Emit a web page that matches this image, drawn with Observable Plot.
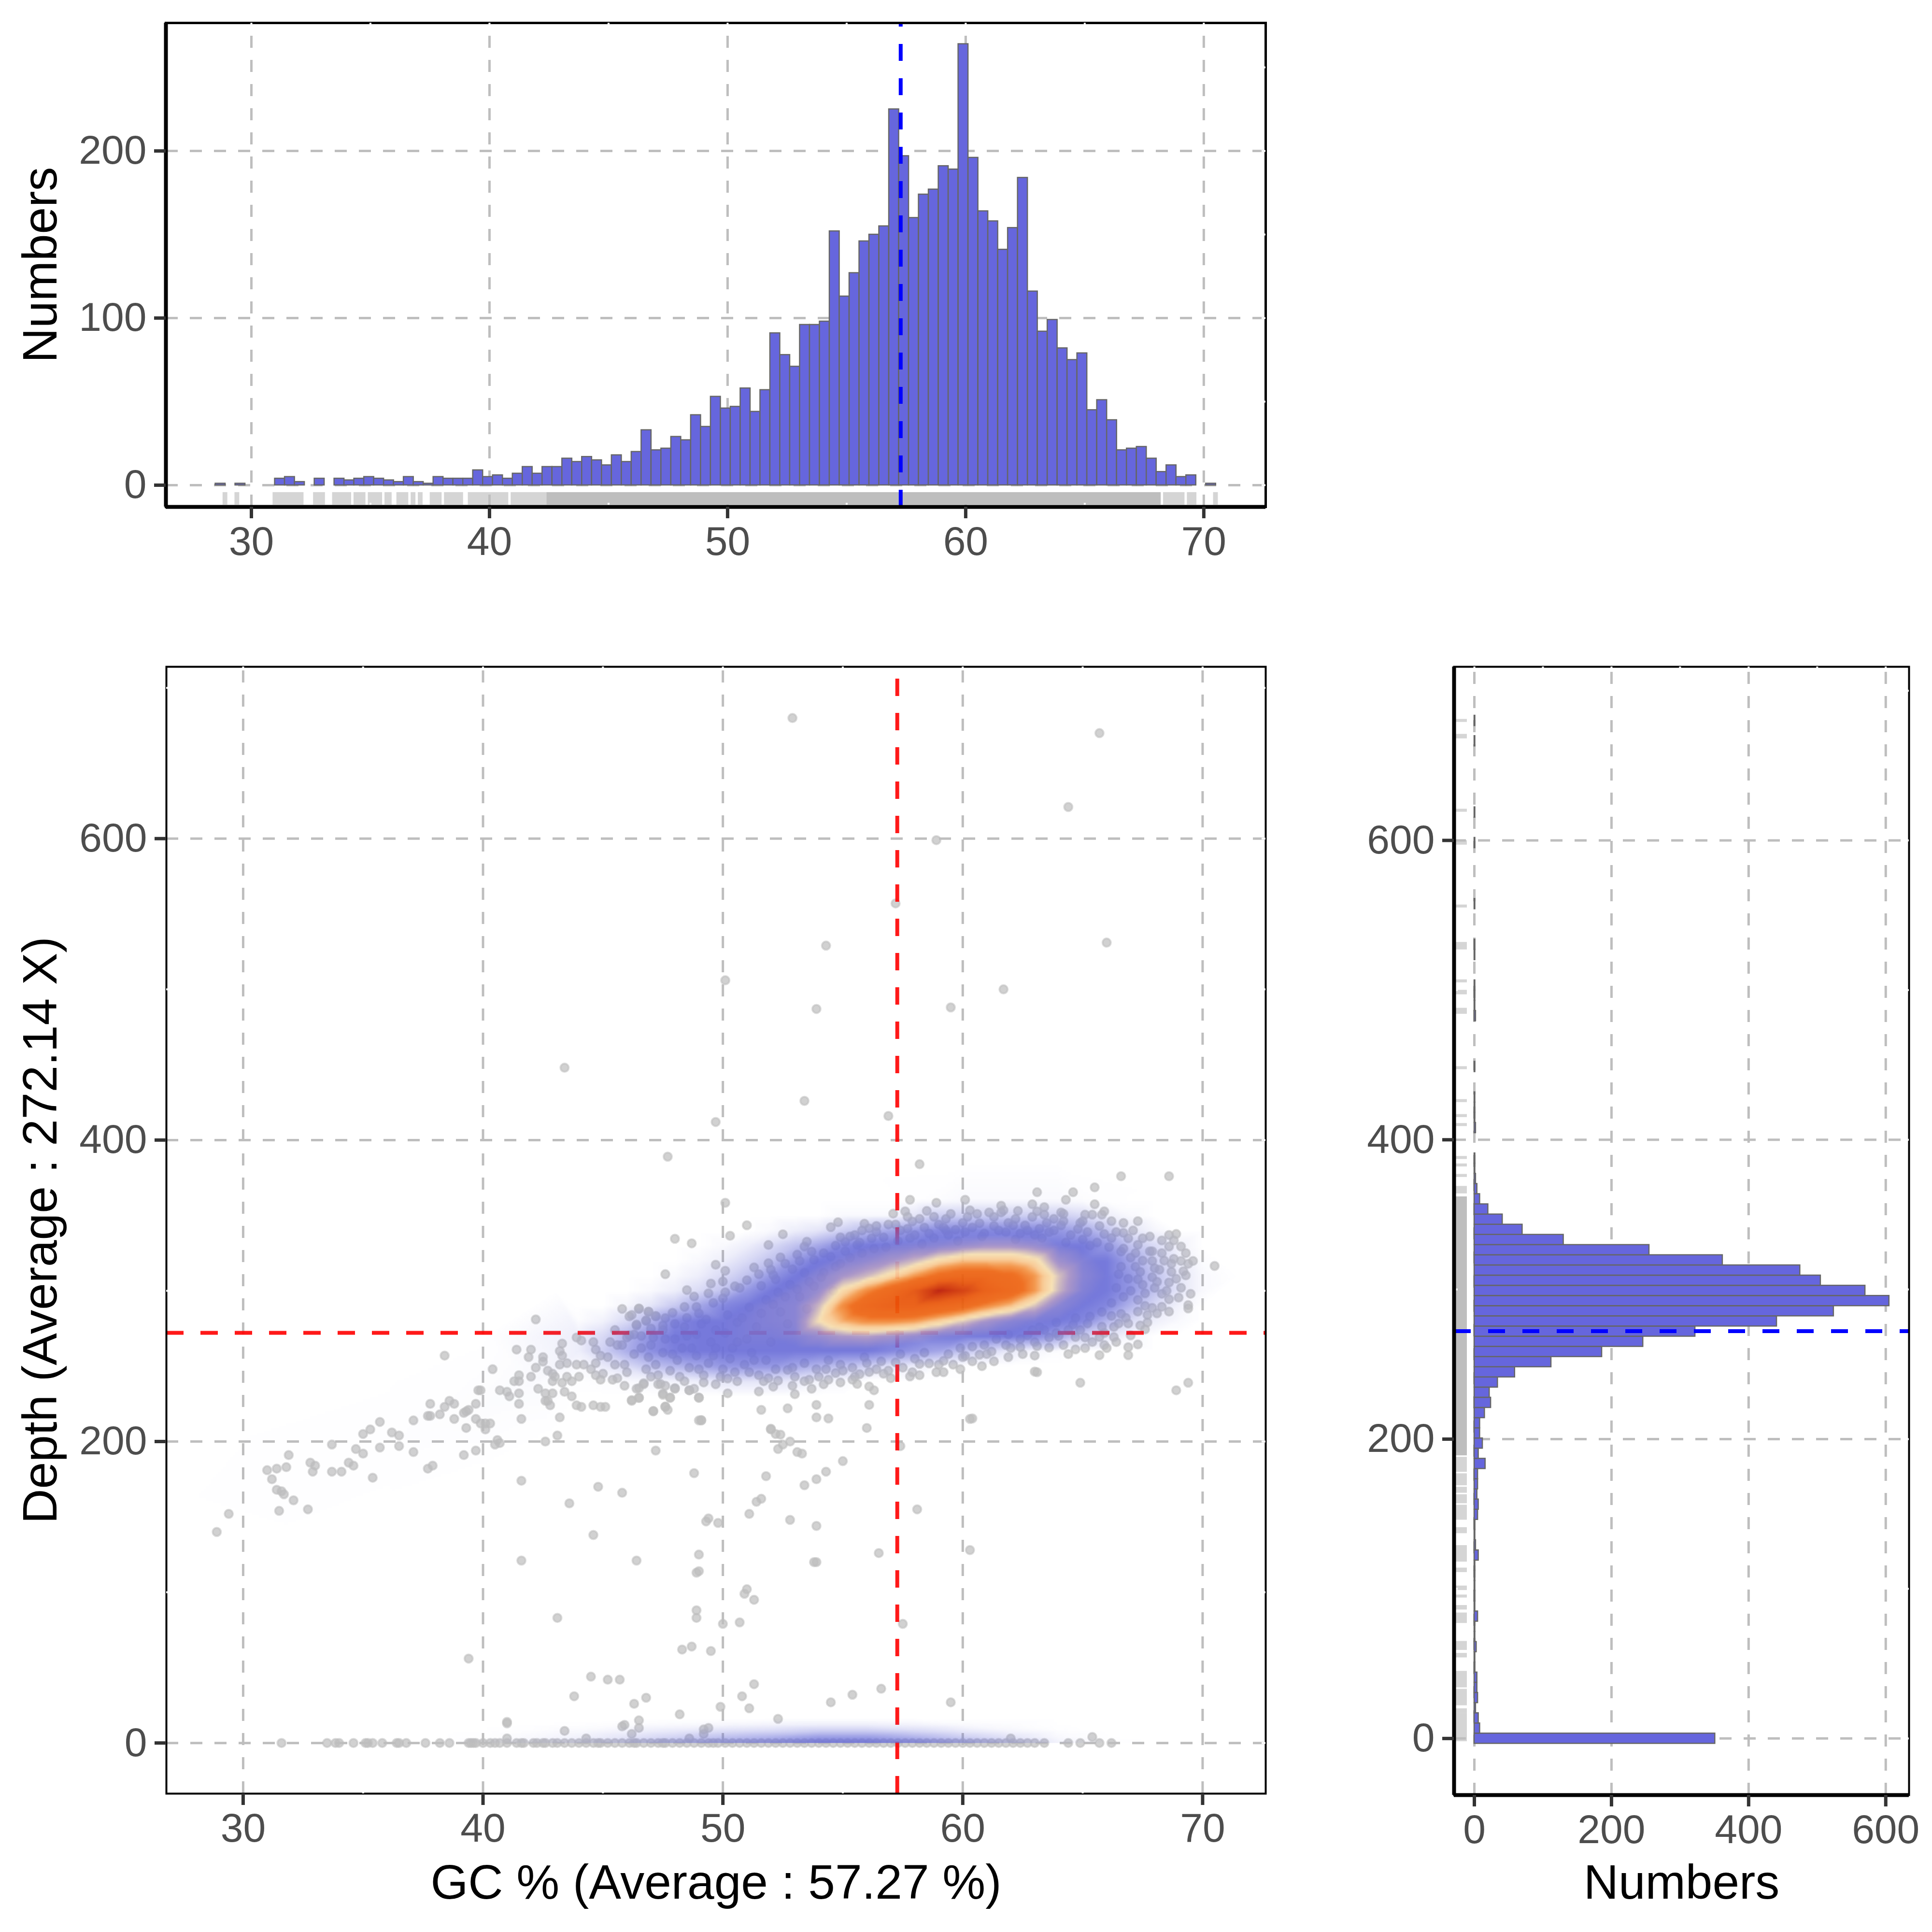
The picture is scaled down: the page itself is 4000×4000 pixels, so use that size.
<!DOCTYPE html>
<html>
<head>
<meta charset="utf-8">
<script src="https://cdn.jsdelivr.net/npm/d3@7"></script>
<script src="https://cdn.jsdelivr.net/npm/@observablehq/plot@0.6"></script>
<style>
  body {margin: 0; background: white;}
  #page {position: relative; width: 4000px; height: 4000px;}
  #page svg {position: absolute; max-width: none; background: transparent;}
</style>
</head>
<body>
<div id="page"></div>
<script>
// GC histogram, bins
var gcBinStart = 28.49;
var gcBinWidth = 0.416;
var gcCounts = [1,0,1,0,0,0,4,5,2,0,4,0,4,3,4,5,4,3,2,5,2,1,5,4,4,4,9,5,6,4,7,11,7,11,11,16,14,17,15,12,18,14,
  20,33,21,22,29,27,42,35,53,46,47,58,44,57,91,78,71,96,96,98,152,113,127,146,150,155,225,197,160,174,177,191,189,264,
  196,164,158,141,154,184,116,92,99,82,75,79,45,51,39,21,22,23,16,8,12,5,6,0,1];

// depth histogram, bins centred on multiples of 6.8
var depthBinWidth = 6.8;
var depthCounts = [351,8,6,2,5,4,4,1,1,3,1,1,5,1,1,1,1,1,6,2,1,1,5,6,4,5,5,16,6,12,8,8,15,24,22,34,59,112,186,246,322,441,
  524,605,570,505,475,362,255,130,70,41,20,8,4,2,1,1,0,0,2,1,1,1,0,0,1,0,0,0,0,2,1,1,1,0,0,1,1,0,0,0,1,0,0,0,0,0,1,0,0,1,0,0,0,0,0,0,1,0,1];

var meanGC = 57.27;
var meanDepth = 272.14;

// rug segments along the top panel [from, to]
var gcRugSparse = [[28.8,29],[29.3,29.5],[30.9,32.2],[32.6,33.1],[33.4,34.2],[34.3,34.8],[34.9,35.5],[35.6,35.9],[36.1,36.6],[36.7,36.9],[37,37.2],[37.5,38],[38.1,38.9],[39.1,40.8],[40.9,42.4],[68.3,69.2],[69.3,69.7],[70.4,70.6]];
var gcRugSolid = [[42.4,68.2]];
// rug segments along the right panel
var depthRugSparse = [[-2,17],[17,20],[22,33],[34,45],[54,57],[59,65],[77,84],[86,89],[94,96],[99,102],[111,114],[118,129],[137,141],[146,156],[157,163],[164,168],[169,177],[178,188],[364,369],[375,377],[382,384],[387,389],[409,411],[415,417],[425,427],[447,449],[484,488],[497,500],[505,507],[527,532],[555,557],[597,600],[619,621],[668,671],[679,681]];
var depthRugSolid = [[189,362]];

// points on the depth = 0 line
var baselineGC = [31.6,33.5,33.85,34,34.6,35.1,35.2,35.4,35.8,36.4,36.5,36.8,37.6,38.2,38.6,39.4,39.5,39.6,39.7,40,40.3,40.5,40.7,41,41.4,41.6,41.7,42.1,42.25,42.5,42.6,42.9,43.1,
  43.4,43.7,44,44.3,44.6,44.8,44.9,45.2,45.5,45.8,46.1,46.3,46.4,46.7,47,47.3,47.5,47.6,47.9,48.2,48.5,48.8,49.1,49.4,49.6,49.8,50.1,50.4,50.7,51,51.3,51.6,51.9,52.2,52.5,52.8,53.1,53.4,53.7,54,54.3,54.6,54.9,55.2,55.5,55.8,56.1,56.4,56.7,57,57.3,57.6,57.9,58.2,58.5,58.8,59.1,59.4,59.7,60,60.3,60.6,60.9,61.2,61.5,61.8,62.1,62.4,62.7,63,63.4,64.4,64.9,65.7,66.2];

// scatter points [GC, depth]
var scatterPoints = [[28.9,140],[29.4,152],[31,181],[31.4,182],[31.8,183],[31.9,191],[31.2,175],[31.4,168],[31.6,167],[31.7,165],[32.1,161],[31.5,154],[32.7,155],[32.8,186],[33,184],[32.9,180],[33.7,180],[34.1,180],[33.7,198],[34.4,186],[34.6,184],[34.7,195],[35,192],[35,205],[35.3,208],[35.7,213],[35.7,196],[35.4,176],[36.2,206],[36.5,204],[36.5,197],[37.1,193],[37.1,214],[37.7,182],[37.9,184],[37.7,217],[37.8,217],[37.8,225],[38.2,218],[38.4,223],[38.6,227],[38.8,225],[38.8,215],[38.4,257],[39.2,219],[39.3,220],[39.4,221],[39.3,209],[39.2,191],[39.7,194],[39.7,225],[39.7,215],[39.9,212],[40.1,212],[40.3,212],[40.1,208],[39.8,234],[39.9,234],[40.4,248],[40.7,234],[41,233],[41.1,230],[40.6,201],[40.7,199],[40.5,198],[41.6,215],[41.5,225],[41.5,232],[41.4,261],[42,261],[41.9,256],[41.3,240],[41.5,240],[41.5,244],[42,243],[42.2,249],[42.3,235],[42.6,232],[42.9,232],[42.6,227],[42.7,227],[42.8,224],[42.5,256],[42.5,253],[42.7,247],[42.9,245],[43,243],[42.9,240],[43.2,216],[43.1,204],[42.6,200],[43.3,265],[43.2,260],[43.3,257],[43.2,251],[43.5,252],[43.5,243],[43.3,239],[43.4,233],[43.7,230],[43.9,224],[44.1,223],[44.6,224],[44.9,223],[45.1,223],[43.7,240],[43.9,251],[44,243],[44.2,251],[43.9,269],[44.1,267],[44.6,266],[44.7,261],[44.9,257],[44.7,252],[44.5,248],[44.7,244],[45,245],[44.9,241],[45.4,241],[45.6,242],[45.2,256],[45.5,251],[45.9,251],[46,246],[45.9,237],[45.6,264],[45.3,266],[45.8,264],[45.5,274],[46,269],[46.3,271],[42.2,281],[45.8,288],[46.1,283],[46.5,288],[46.4,277],[46.9,286],[46.8,280],[47.2,283],[47.6,311],[46.2,227],[46.4,235],[46.5,229],[46.7,238],[47.3,238],[47.5,231],[47.1,220],[47.6,223],[47.7,221],[47.8,229],[48,235],[47.6,237],[48.6,234],[48.8,235],[49,229],[49.1,214],[47.2,194],[48.8,179],[41.6,174],[44.8,170],[45.8,166],[43.6,159],[44.6,138],[41.6,121],[46.4,121],[49.4,149],[49.8,146],[49,125],[48.9,113],[43.1,83],[48.9,88],[48.9,83],[50,79],[39.4,56],[48.3,62],[48.7,64],[49.5,61],[44.5,44],[45.2,42],[45.7,42],[43.8,31],[46.8,30],[46.3,26],[49.9,24],[48.2,19],[41,14],[41,13],[45.9,12],[45.8,11],[46.5,15],[46.5,10],[46.2,6],[43.4,8],[49.4,10],[49.2,9],[49.2,6],[41,3],[44.3,3],[48.6,3],
  [50.7,80],[57.5,79],[51.3,95],[50.9,99],[51.3,39],[50.8,31],[51.1,23],[52.3,16],[54.5,27],[55.4,32],[56.6,36],[59.5,27],[62,3],[65.4,4],
  [52.9,680],[65.7,670],[64.4,621],[58.9,599],[57.2,557],[54.3,529],[66,531],[50.1,506],[61.7,500],[59.5,488],[53.9,487],[43.4,448],[53.4,426],[56.9,416],[49.7,412],[58.2,384],[47.7,389],[66.6,376],[68.6,376],
  [60.3,215],[60.3,128],[58.1,155],[56.5,126],[53.9,120],[53.8,120],[51,102],[49,114],[49.3,147],[51.4,160],[51.6,162],[52.8,148],[53.9,144],[51.1,152],[51.8,177],[53.4,171],[55,187],[53.3,192],[53.1,193],[52.8,200],[52.5,198],[52.2,205],[52,208],[52.3,195],[53.9,175],[54.3,180],[49,214],[53.9,216],[56,209],[57.4,197],[50.2,232],[64.9,239],[68.9,234],[69.4,239],[63.1,246],
  [65.5,368.6],[64.6,365.4],[63.1,365.4],[60.1,360.4],[57.8,360.4],[58.9,358.4],[50.1,358.4],[62.9,357.4],[63.4,355.5],[61.6,356.5],[64.3,360.4],[65.5,357.4],[63.1,352.7],[63.4,350.5],[64.1,352],[60.3,353.4],[61.7,353.4],[61.1,352],[61.6,352],[65.9,352.7],[65.1,350.5],[65.4,350.5],[65.8,350.5],[67.3,346.2],[66.2,346.2],[57.1,351.2],[57.6,352.7],[57.7,349.1],[58.2,347.7],[58.8,349.1],[59.3,347.7],[60.2,349.1],[62.2,347.7],[63.8,347.7],[64.2,346.2],[65,346.2],[54.8,345.5],[54.5,342.2],[55.9,344.5],[56.1,341.4],[51,343.5],[52.5,337.5],[50.3,336.5],[48,334.5],[48.7,331.5],[51.9,330.4],[53.5,332.6],[53.4,329.4],[54.9,335.5],[55.1,332.4],[55.7,332],[56.2,334.8],[56.7,335.5],[57.7,341.2],[58.4,342],[59.2,342],[59.7,340.5],[60.7,344.8],[62.1,343.4],[62.6,343.4],[63.2,341.2],[64.1,343.4],[66.4,339],[66.7,338.4],[67.5,334.8],[68.6,337],[68.9,337.7],[68.3,333.4],[68.8,333.4],[69.1,329.4],[68.6,329.4],[67.9,326.2],[67.3,330.5],[66.9,334.8],[65.9,337.7],[65.2,339],
  [68.8,321.2],[69.1,319.8],[69.4,317.9],[69.6,319.8],[70.5,316.5],[69.3,310.2],[68.7,312.6],[68.6,305.5],[67.9,319.8],[67.8,326.2],[67.4,312.6],[67.9,309],[67.3,307.6],[68,301.9],[67.6,298.3],[67.3,294],[68.6,294.4],[69,295.5],[69.4,290.5],[69.4,288.3],[68.3,289.4],[67.9,288.7],[68.6,286.2],[67.3,286.2],[67.7,284],[67.7,279],[66.6,284.7],[66.2,283.3],[66.5,278.3],[66.9,278.3],[67.6,274.4],[65.8,276.2],[65.2,278.3],[64.6,277.6],[67,270.4],[66.3,269.3],[65.7,269.3],[64.7,269.3],[67.3,264.4],[66.9,262.6],[64.7,261.1],[66.9,257.3],[65.7,257.3],[63,246.4],[60.4,215.3],[57.8,243.2],
  [63.6,262.3],[63.1,263.3],[63.6,269],[62.4,262.6],[61.3,253.2],[60.4,253.2],[59.6,251],[59.2,253.5],[58.6,251.8],[58.2,251.5],[60.1,256.8],[60.7,257.6],[61.2,259.7],[61.8,264],[62.7,270.4],[57.2,252.5],[56.6,253.2],[56.1,246.1],[55.7,244.7],[54.7,245.4],[53.6,241],[54.4,241],[54.9,239.2],[55.6,238.2],[56.1,236.5],[56.3,234],[56.1,224.3],[53.9,224.3],[52.7,222],[51.6,221],[54.4,215.3],[49.1,214.2],[52,208.5],[52.4,204.6],[53,231.4],[53.7,235],[52.1,236.4],[51.5,233.2],[52.3,240.4],[52.7,247.5],[51.1,246],[50.2,241.8],[49.2,239.2],[49,229.2],[48.6,234],[47.8,229.2],[47.5,231.8],[48,235.4],[47.4,238.2],[46.7,238.7],[46.5,235.4],[46.5,229],[46.2,227.5],[47.1,220.3],[47.6,223.2],
  [52.4,322.2],[51.9,318.3],[51.3,315.5],[49.7,317.3],[50.1,313.3],[53.8,320.5],[53.2,319.8],[52.9,314.3],[54.5,322.6],[55.1,326.2],[55.6,330.5],[53.4,312],[52.1,310.5],[52.2,307.6],[51.6,303.3],[50.7,301.9],[50.1,299],[49.5,304.8],[50,306.2],[48.5,300.5],[48.8,296.2],[49.4,298.3],[48.4,289.3],[48.9,289.3],[47.9,285.4],[47.6,281.9],[47.2,283.3],[46.8,280.4],[46.5,288.3],[46.9,286.2],[46.2,284],[46.4,277.6],[46.1,270.4],
  [46.6,262],[46.9,256],[47.2,251],[47.5,259],[47.8,247],[48.1,254],[48.3,262],[48.6,249],[48.9,257],[49.2,244],[49.4,252],[49.7,262],[50,248],[50.3,255],[50.6,266],[50.9,251],[51.2,259],[51.5,244],[51.8,254],[47.1,269],[47.5,274],[48,268],[48.4,276],[48.9,271],[49.3,281],[49.7,274],[50.2,284],[50.6,279],[51.1,289],[51.4,276],[51.8,294],[52.3,299],[52.8,304],[53.2,296],[53.6,306],[54.2,312],[54.7,316],[52.4,286],[52.9,249],[53.4,252],[53.9,248],[54.4,254],[54.9,251],[55.4,249],[55.9,256],[56.4,248],[56.9,247],[57.4,258],[57.9,246],[58.4,259],[58.9,246],[59.4,258],[59.9,262],[60.4,263],[60.9,264],[61.4,268],[61.9,271],[62.4,268],[62.9,274],[63.4,274],[63.9,272],[64.4,274],[64.9,274],[65.4,266],[66,262],
  [55.5,337],[56.4,339],[57.2,344],[58,337],[58.6,338],[59.4,337],[60.1,339],[60.9,338],[61.5,340],[62.4,338],[63,337],[63.6,339],[64.5,337],[65,334],[65.6,332],[66.1,329],[66.6,326],[67,322],[66.6,316],[66.9,308],[66.4,302],[66.7,296],[66.2,292],[65.8,286],[65.3,283],[64.7,282],[63.9,279],[63.2,276],[67.2,316],[67.5,304],[68.2,314],[68.3,298],[68.4,320],[67,300],[66.5,311]];

// more of the crowded rim of the cloud
var cloudRimPoints = [[46.3,258],[46.8,248],[47,264],[47.3,244],[47.6,268],[47.9,258],[48.2,243],[48.5,270],[48.7,262],[49,248],[49.1,278],[49.5,266],[49.6,257],[49.9,243],[50.1,272],[50.4,262],[50.5,246],[50.8,282],[51,268],[51.3,254],[51.6,285],[51.7,240],[52,266],[52.1,291],[52.2,248],[52.6,296],[52.7,278],[53,243],[53.1,301],[53.4,240],[53.5,288],[53.8,303],[54,243],[54.1,309],[54.3,248],[54.6,300],[54.9,318],[55,247],[55.3,322],[55.5,243],[55.8,325],[56,252],[56.3,328],[56.7,245],[56.8,329],[57.3,333],[57.5,249],[57.8,335],[58,255],[58.3,331],[58.8,335],[59,251],[59.3,340],[59.8,333],[60,256],[60.4,342],[60.8,336],[61,258],[61.3,343],[61.8,339],[62,262],[62.2,334],[62.7,340],[63,266],[63.3,335],[63.8,340],[64,270],[64.3,332],[64.8,341],[65.1,269],[65.3,330],[65.7,343],[65.9,272],[66.2,335],[66.3,276],[66.7,345],[66.7,328],[66.8,282],[67.1,340],[67.2,325],[67.4,277],[67.5,320],[67.6,290],[67.8,336],[68,315],[68.1,285],[68.1,306],[68.3,325],[68.5,300],[68.7,318],[68.9,308],[69.1,302],[69.2,313],[69.3,325],[69.5,298],[64.9,345],[64.2,351],[63.5,345],[62.9,349],[62.3,353],[61.9,345],[61.3,349],[60.6,351],[60,345],[59.5,351],[59,344],[58.5,353],[57.9,346],[57.4,340],[56.9,344],[56.4,343],[55.8,340],[55.3,336],[54.7,330],[54.2,325],[53.7,326],[53.1,324],[52.6,318],[52,314],[51.5,311],[51,307],[50.5,303],[50,295],[49.6,292],[49,285],[48.5,282],[48,278],[47.5,277],[47,275],[46.6,270],[63,257],[62.5,258],[61.9,256],[60.8,250],[59.9,248],[59.2,246],[58.2,244],[57,242],[55.4,241],[54.2,238],[52.9,237],[51.9,242],[50.6,240],[49.7,238],[48.4,240],[47,243],[64.2,264],[65.1,262],[65.9,264],[66.4,266],[64.4,258]];

// density, one row per depth, 0 = none, 25 = solid blue, 40 = pale ring, 100 = dark centre
var densityGC = [44,45,46,47,48,49,50,51,52,53,54,55,56,57,58,59,60,61,62,63,64,65,66,67,68,69,70];
var densityDepth = [360,350,340,330,320,310,300,290,280,270,260,250,240,230];
var densityRows = [
  [0,0,0,0,0,0,0,0,0,0,0,0,0,0,1,2,3,3,3,3,3,2,1,0,0,0,0],
  [0,0,0,0,0,0,0,0,0,0,0,3,3,3,8,12,12,12,12,12,12,10,6,3,0,0,0],
  [0,0,0,0,0,0,0,0,3,6,8,12,15,18,20,22,22,22,22,22,20,18,14,8,4,0,0],
  [0,0,0,0,0,0,3,6,10,14,18,22,25,26,27,28,30,32,32,30,26,24,20,14,10,5,0],
  [0,0,0,0,0,3,6,10,14,20,24,27,29,32,36,42,46,46,46,42,31,27,24,18,12,6,2],
  [0,0,0,0,3,6,10,14,20,24,28,32,36,42,50,58,62,62,58,50,37,28,25,20,14,8,3],
  [0,0,0,3,6,10,14,20,24,27,30,42,52,62,75,95,85,70,62,50,36,27,24,20,14,8,3],
  [0,0,4,8,13,18,22,25,27,28,36,52,64,70,70,65,60,52,46,37,28,25,22,16,10,5,0],
  [2,5,10,16,22,24,25,26,27,28,40,48,52,52,50,44,38,32,28,26,25,22,16,10,6,3,0],
  [6,10,16,21,24,24,25,26,26,27,30,33,34,32,30,27,26,25,24,22,18,12,8,4,0,0,0],
  [6,12,17,21,23,24,25,25,25,24,24,24,24,22,20,18,14,10,7,4,2,0,0,0,0,0,0],
  [3,7,10,14,16,18,20,20,20,18,16,14,12,8,6,3,1,0,0,0,0,0,0,0,0,0,0],
  [1,2,3,4,5,6,8,8,8,7,5,3,0,0,0,0,0,0,0,0,0,0,0,0,0,0,0],
  [0,0,0,0,0,0,0,0,0,0,0,0,0,0,0,0,0,0,0,0,0,0,0,0,0,0,0]];
// faint tail towards low GC and the empty edges around it [GC, depth, level]
var densityTail = [[31,172,1],[33,182,1],[36,200,1],[38,210,1.5],[40,222,2],[42,238,2.5],[30,215,0],[36,245,0],[40,270,0],[43,300,0],[32,135,0],[36,160,0],[40,180,0],[43,205,0],[27,160,0],
  [46,310,0],[50,345,0],[53,365,0],[56,380,0],[60,385,0],[64,385,0],[68,370,0],[71,345,0],[71.5,310,0],[71.5,270,0],[68,250,0],[64,235,0],
  [26.8,-34,0],[72.6,-34,0],[72.6,714,0],[26.8,714,0]];

// density of the band just above depth 0
var bandGC = [38,40,42,44,46,48,50,52,54,56,58,60,62,64,66,68];
var bandDepth = [0,4,8,12,16];
var bandRows = [
  [0,2,5,8,11,15,18,20,23,23,21,17,12,5,1,0],
  [0,1,3,5,8,11,14,16,19,19,16,12,8,3,.5,0],
  [0,.5,1.5,3,5,7,9,10,12,12,10,7,4,1.5,.2,0],
  [0,0,.5,1,2,3,4,5,6,6,5,3,2,.5,0,0],
  [0,0,0,0,0,0,0,0,0,0,0,0,0,0,0,0]];

var densityStops = [0,25,33,40,45,50,56,72,88,100];
var densityColors = ["#6a6ed8","#6a6ed8","#a58fc4","#f6dfb0","#f8c890","#f39040","#ee6410","#e85408","#cc2c00","#a80000"];

var gcTicksTop = [30,40,50,60,70];
var gcMinor = [35,45,55,65];

var barFill = "#6666dd";
var barStroke = "#666666";
var gridGrey = "#bebebe";
var tickFont = 84;
var titleFont = 100;
var fontFamily = "Liberation Sans";

var page = document.getElementById("page");

function add(plot, left, top) {
  plot.style.left = left + "px";
  plot.style.top = top + "px";
  page.appendChild(plot);
}

function grid(xs, ys, xd, yd) {
  return [
    Plot.ruleY(ys, {x1: xd[0], x2: xd[1], stroke: gridGrey, strokeWidth: 5, strokeDasharray: "25,25"}),
    Plot.ruleX(xs, {y1: yd[0], y2: yd[1], stroke: gridGrey, strokeWidth: 5, strokeDasharray: "25,25"})
  ];
}

// the little white marks that cut the border at minor breaks
function notches(xMajor, xMinor, yMajor, yMinor, xd, yd, pxX, pxY) {
  var dx = 8 / pxX, dy = 8 / pxY;
  var style = {stroke: "white", strokeWidth: 4};
  return [
    Plot.ruleX(xMajor.concat(xMinor), {y1: yd[1], y2: yd[1] - dy, ...style}),
    Plot.ruleX(xMinor, {y1: yd[0], y2: yd[0] + dy, ...style}),
    Plot.ruleY(yMinor, {x1: xd[0], x2: xd[0] + dx, ...style}),
    Plot.ruleY(yMajor.concat(yMinor), {x1: xd[1], x2: xd[1] - dx, ...style})
  ];
}

function axes(xs, ys) {
  var common = {tickSize: 24, fontSize: tickFont, stroke: "#333333", fill: "#4d4d4d", strokeWidth: 7, label: null};
  return [
    Plot.axisX({ticks: xs, tickPadding: 16, ...common}),
    Plot.axisY({ticks: ys, tickPadding: 16, ...common})
  ];
}

function xTitle(s, dy) {
  return Plot.text([s], {text: d => d, frameAnchor: "bottom", lineAnchor: "middle", dy: dy, fontSize: titleFont, fill: "black"});
}
function yTitle(s, dx) {
  return Plot.text([s], {text: d => d, frameAnchor: "left", textAnchor: "middle", rotate: -90, dx: dx, fontSize: titleFont, fill: "black"});
}

// ---- top histogram ----
var topX = [26.41, 72.6], topY = [-13, 276.6];
add(Plot.plot({
  width: 2700, height: 1250,
  marginLeft: 343, marginRight: 80, marginTop: 47, marginBottom: 201,
  style: {fontFamily: fontFamily},
  x: {domain: topX}, y: {domain: topY},
  marks: [
    grid(gcTicksTop, [0,100,200], topX, topY),
    Plot.rect(gcRugSparse, {x1: d => d[0], x2: d => d[1], y1: -4.3, y2: -11.8, fill: gridGrey, fillOpacity: 0.65}),
    Plot.rect(gcRugSolid, {x1: d => d[0], x2: d => d[1], y1: -4.3, y2: -11.8, fill: gridGrey}),
    Plot.rect(gcCounts, {
      x1: (d, i) => gcBinStart + i * gcBinWidth,
      x2: (d, i) => gcBinStart + (i + 1) * gcBinWidth,
      y1: 0, y2: d => d, fill: barFill, stroke: barStroke, strokeWidth: 2.5
    }),
    Plot.ruleX([meanGC], {y1: topY[0], y2: topY[1], stroke: "#0000ff", strokeWidth: 8, strokeDasharray: "35,36"}),
    Plot.frame({stroke: "black", strokeWidth: 5}),
    notches(gcTicksTop, gcMinor, [0,100,200], [50,150,250], topX, topY, 49.3, 3.46),
    Plot.ruleX([topX[0]], {stroke: "black", strokeWidth: 8}),
    Plot.ruleY([topY[0]], {stroke: "black", strokeWidth: 8}),
    axes(gcTicksTop, [0,100,200]),
    yTitle("Numbers", -259)
  ]
}), 0, 0);

// ---- main scatter with density ----
var mainX = [26.8, 72.63], mainY = [-33.6, 714];
var densitySamples = [];
densityRows.forEach((row, r) => row.forEach((v, c) => densitySamples.push([densityGC[c], densityDepth[r], v])));
densitySamples = densitySamples.concat(densityTail);
var bandSamples = [];
bandRows.forEach((row, r) => row.forEach((v, c) => bandSamples.push([bandGC[c], bandDepth[r], v])));
var allDots = scatterPoints.concat(cloudRimPoints, baselineGC.map(g => [g, 0]));
var alpha = d => Math.min(0.92, Math.pow(d[2] / 25, 1.5));

add(Plot.plot({
  width: 2700, height: 2700,
  marginLeft: 344, marginRight: 80, marginTop: 80, marginBottom: 287,
  style: {fontFamily: fontFamily},
  x: {domain: mainX}, y: {domain: mainY},
  color: {type: "linear", domain: densityStops, range: densityColors},
  opacity: {type: "identity"},
  marks: [
    grid(gcTicksTop, [0,200,400,600], mainX, mainY),
    Plot.dot(allDots, {x: d => d[0], y: d => d[1], r: 8.5, fill: "#bebebe", fillOpacity: 0.7, stroke: "#bebebe", strokeOpacity: 0.55, strokeWidth: 4}),
    Plot.ruleX([meanGC], {y1: mainY[0], y2: mainY[1], stroke: "#ff0000", strokeOpacity: 0.9, strokeWidth: 8, strokeDasharray: "36,35"}),
    Plot.ruleY([meanDepth], {x1: mainX[0], x2: mainX[1], stroke: "#ff0000", strokeOpacity: 0.9, strokeWidth: 8, strokeDasharray: "36,35"}),
    Plot.raster(densitySamples, {x: d => d[0], y: d => d[1], fill: d => d[2], fillOpacity: alpha, interpolate: "barycentric", pixelSize: 5, imageRendering: "auto"}),
    Plot.raster(bandSamples, {x: d => d[0], y: d => d[1], fill: d => d[2], fillOpacity: alpha, interpolate: "barycentric", pixelSize: 5, imageRendering: "auto", x1: 38, x2: 68, y1: 0, y2: 16}),
    Plot.frame({stroke: "black", strokeWidth: 4}),
    notches(gcTicksTop, gcMinor, [0,200,400,600], [100,300,500,700], mainX, mainY, 49.66, 3.12),
    axes(gcTicksTop, [0,200,400,600]),
    xTitle("GC % (Average : 57.27 %)", 185),
    yTitle("Depth (Average : 272.14 X)", -260)
  ]
}), 0, 1300);

// ---- right histogram ----
var sideX = [-29.6, 634], sideY = [-37.8, 716];
add(Plot.plot({
  width: 1300, height: 2700,
  marginLeft: 310, marginRight: 48, marginTop: 80, marginBottom: 284,
  style: {fontFamily: fontFamily},
  x: {domain: sideX}, y: {domain: sideY},
  marks: [
    grid([0,200,400,600], [0,200,400,600], sideX, sideY),
    Plot.rect(depthRugSparse, {y1: d => d[0], y2: d => d[1], x1: -28.2, x2: -10.6, fill: gridGrey, fillOpacity: 0.65}),
    Plot.rect(depthRugSolid, {y1: d => d[0], y2: d => d[1], x1: -28.2, x2: -10.6, fill: gridGrey}),
    Plot.rect(depthCounts, {
      y1: (d, i) => (i - 0.5) * depthBinWidth,
      y2: (d, i) => (i + 0.5) * depthBinWidth,
      x1: 0, x2: d => d, fill: barFill, stroke: barStroke, strokeWidth: 2.5
    }),
    Plot.ruleY([meanDepth], {x1: sideX[0], x2: sideX[1], stroke: "#0000ff", strokeWidth: 8, strokeDasharray: "35,36"}),
    Plot.frame({stroke: "black", strokeWidth: 4}),
    notches([0,200,400,600], [100,300,500], [0,200,400,600], [100,300,500,700], sideX, sideY, 1.42, 3.098),
    Plot.ruleX([sideX[0]], {stroke: "black", strokeWidth: 8}),
    Plot.ruleY([sideY[0]], {stroke: "black", strokeWidth: 8}),
    axes([0,200,400,600], [0,200,400,600]),
    xTitle("Numbers", 182)
  ]
}), 2700, 1300);
</script>
</body>
</html>
